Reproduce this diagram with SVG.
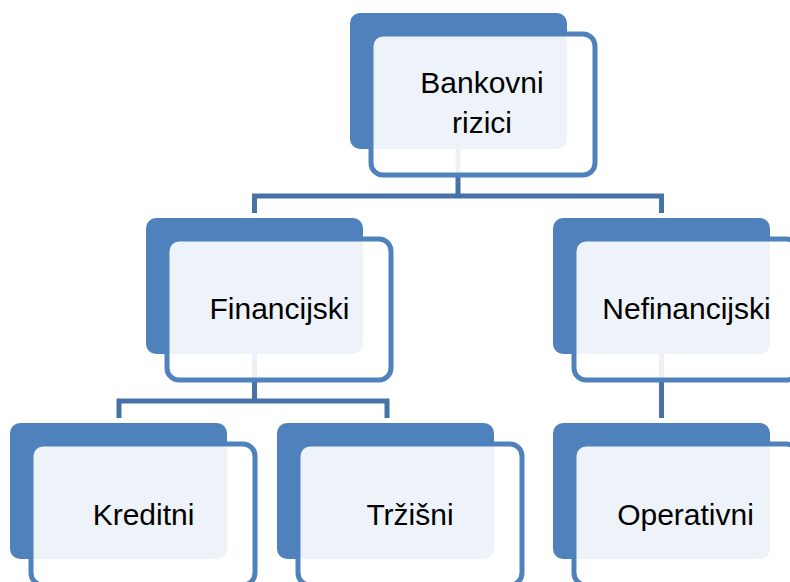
<svg xmlns="http://www.w3.org/2000/svg" width="790" height="582" viewBox="0 0 790 582">
<style>
.back{fill:#4F81BD}
.front{fill:#FFFFFF;fill-opacity:0.9;stroke:#4F81BD;stroke-width:5}
.conn{fill:none;stroke:#4672A8;stroke-width:5;stroke-linejoin:miter}
.lbl{font-family:"Liberation Sans",Arial,sans-serif;font-size:30px;fill:#000;text-anchor:middle}
</style>
<rect width="790" height="582" fill="#FFFFFF"/>
<g id="connectors">
<path class="conn" d="M458,148 V196 M254.5,213 V196 H661.5 V213"/>
<path class="conn" d="M254.5,354 V401 M119,418 V401 H387 V418"/>
<path class="conn" d="M661.5,354 V418"/>
</g>
<g id="bankovni">
<rect class="back" x="350" y="13" width="217" height="136" rx="10"/>
<rect class="front" x="371" y="34" width="224" height="141" rx="12"/>
<text class="lbl" x="482" y="93">Bankovni</text>
<text class="lbl" x="482" y="133">rizici</text>
</g>
<g id="financijski">
<rect class="back" x="146" y="218" width="217" height="136" rx="10"/>
<rect class="front" x="167" y="239" width="224" height="141" rx="12"/>
<text class="lbl" x="279.5" y="319">Financijski</text>
</g>
<g id="nefinancijski">
<rect class="back" x="553" y="218" width="217" height="136" rx="10"/>
<rect class="front" x="574" y="239" width="224" height="141" rx="12"/>
<text class="lbl" x="686.5" y="319">Nefinancijski</text>
</g>
<g id="kreditni">
<rect class="back" x="10" y="423" width="217" height="136" rx="10"/>
<rect class="front" x="31" y="444" width="224" height="141" rx="12"/>
<text class="lbl" x="143.5" y="525">Kreditni</text>
</g>
<g id="trzisni">
<rect class="back" x="277" y="423" width="217" height="136" rx="10"/>
<rect class="front" x="298" y="444" width="224" height="141" rx="12"/>
<text class="lbl" x="410" y="525">Tržišni</text>
</g>
<g id="operativni">
<rect class="back" x="553" y="423" width="217" height="136" rx="10"/>
<rect class="front" x="574" y="444" width="224" height="141" rx="12"/>
<text class="lbl" x="685.5" y="525">Operativni</text>
</g>
</svg>
